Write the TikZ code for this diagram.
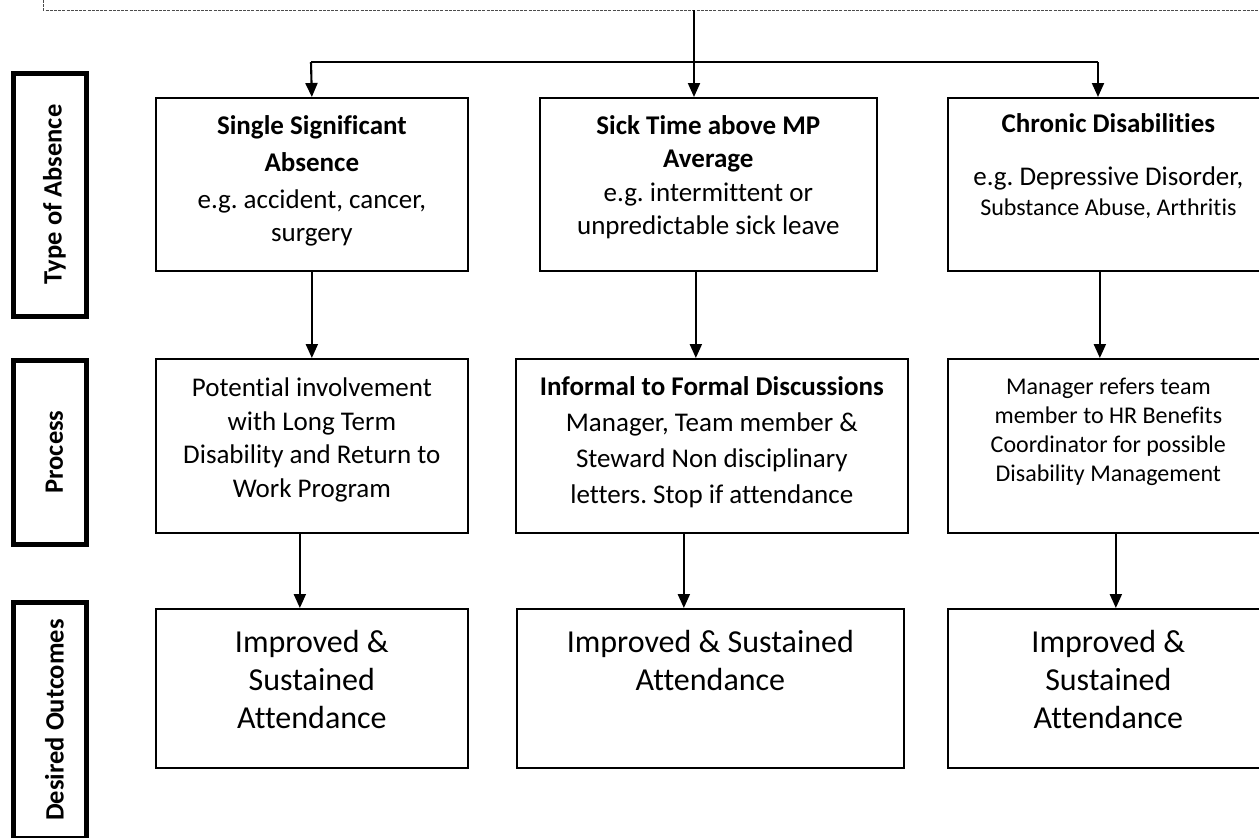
\documentclass[tikz,border=0pt]{standalone}
\usepackage{fontspec}
\setmainfont{Carlito}[Ligatures=NoCommon]
\frenchspacing
\usetikzlibrary{arrows.meta}

\tikzset{
  box/.style={draw, line width=1.7pt, anchor=north west, inner sep=0pt},
  lbl/.style={draw, line width=5pt, anchor=north west, inner sep=0pt},
  lbltxt/.style={rotate=90, font=\bfseries\fontsize{26.5}{26.5}\selectfont},
  txt/.style={anchor=north, align=center, inner sep=0pt, font=\fontsize{27}{33.5}\selectfont},
  smalltxt/.style={anchor=north, align=center, inner sep=0pt, font=\fontsize{24}{29}\selectfont},
  bigtxt/.style={anchor=north, align=center, inner sep=0pt, font=\fontsize{32}{38}\selectfont},
  flow/.style={line width=2.1pt, -{Triangle[length=14pt,width=12pt]}},
}

\begin{document}
\begin{tikzpicture}[x=1pt, y=-1pt]
  \useasboundingbox (0,0) rectangle (1259,838);
  \clip (0,0) rectangle (1259,838);

  % Row labels on the left
  \node[lbl, minimum width=73pt, minimum height=243pt] (type) at (10.5,70.5) {};
  \node[lbltxt] (typetxt) at ([xshift=5pt]type.center) {Type of Absence};
  \node[lbl, minimum width=73pt, minimum height=184pt] (proc) at (10.5,357.5) {};
  \node[lbltxt] (proctxt) at ([xshift=5pt]proc.center) {Process};
  \node[lbl, minimum width=73pt, minimum height=236pt] (outc) at (10.5,599.5) {};
  \node[lbltxt] (outctxt) at ([xshift=5pt]outc.center) {Desired Outcomes};

  % Edge of the box above (cut off)
  \draw[dashed, dash pattern=on 3pt off 1.2pt, line width=0.8pt, black!70] (43,0) -- (43,10) -- (1262,10);

  % Type of absence
  \node[box, minimum width=312pt, minimum height=173pt] (sig) at (155,97) {};
  \node[txt] (sigtxt) at ([yshift=-18pt]sig.north) {\textbf{Single Significant}\\[4pt]\textbf{Absence}\\[3pt]e.g. accident, cancer,\\surgery};

  \node[box, minimum width=337pt, minimum height=173pt] (avg) at (539,97) {};
  \node[txt] (avgtxt) at ([yshift=-18pt]avg.north) {\textbf{Sick Time above MP}\\\textbf{Average}\\e.g. intermittent or\\unpredictable sick leave};

  \node[box, minimum width=315pt, minimum height=173pt] (chr) at (947,97) {};
  \node[txt] (chrtxt) at ([xshift=3pt, yshift=-16pt]chr.north) {\textbf{Chronic Disabilities}\\[20pt]e.g. Depressive Disorder,\\[-4pt]{\fontsize{24}{28}\selectfont Substance Abuse, Arthritis}};

  % Process
  \node[box, minimum width=312pt, minimum height=174pt] (ltd) at (155,358) {};
  \node[txt] (ltdtxt) at ([yshift=-20pt]ltd.north) {Potential involvement\\with Long Term\\Disability and Return to\\Work Program};

  \node[box, minimum width=392pt, minimum height=174pt] (disc) at (515,358) {};
  \node[txt, font=\fontsize{27}{36}\selectfont] (disctxt) at ([yshift=-18pt]disc.north) {\textbf{Informal to Formal Discussions}\\Manager, Team member \&\\Steward Non disciplinary\\letters. Stop if attendance};

  \node[box, minimum width=315pt, minimum height=174pt] (ref) at (947,358) {};
  \node[smalltxt] (reftxt) at ([xshift=3pt, yshift=-20pt]ref.north) {Manager refers team\\member to HR Benefits\\Coordinator for possible\\Disability Management};

  % Desired outcomes
  \node[box, minimum width=312pt, minimum height=159pt] (out1) at (155,608) {};
  \node[bigtxt] (out1txt) at ([yshift=-22pt]out1.north) {Improved \&\\Sustained\\Attendance};

  \node[box, minimum width=387pt, minimum height=159pt] (out2) at (516,608) {};
  \node[bigtxt] (out2txt) at ([yshift=-22pt]out2.north) {Improved \& Sustained\\Attendance};

  \node[box, minimum width=315pt, minimum height=159pt] (out3) at (947,608) {};
  \node[bigtxt] (out3txt) at ([xshift=3pt, yshift=-22pt]out3.north) {Improved \&\\Sustained\\Attendance};

  % Connectors from the top
  \coordinate (top) at (694,10);
  \coordinate (barl) at (311,62);
  \coordinate (barr) at (1098,62);
  \draw[line width=2.1pt] (barl) -- (barr);
  \draw[flow] (top) -- (top |- avg.north);
  \draw[flow] (barl) -- (sig.north);
  \draw[flow] (barr) -- (barr |- chr.north);

  % Type -> process
  \draw[flow] (sig.south) -- (ltd.north);
  \draw[flow] ([xshift=-12.5pt]avg.south) -- ([xshift=-12.5pt]avg.south |- disc.north);
  \draw[flow] ([xshift=-5.5pt]chr.south) -- ([xshift=-5.5pt]chr.south |- ref.north);

  % Process -> outcome
  \draw[flow] ([xshift=-12pt]ltd.south) -- ([xshift=-12pt]ltd.south |- out1.north);
  \draw[flow] ([xshift=-28pt]disc.south) -- ([xshift=-28pt]disc.south |- out2.north);
  \draw[flow] ([xshift=10.5pt]ref.south) -- ([xshift=10.5pt]ref.south |- out3.north);
\end{tikzpicture}
\end{document}
